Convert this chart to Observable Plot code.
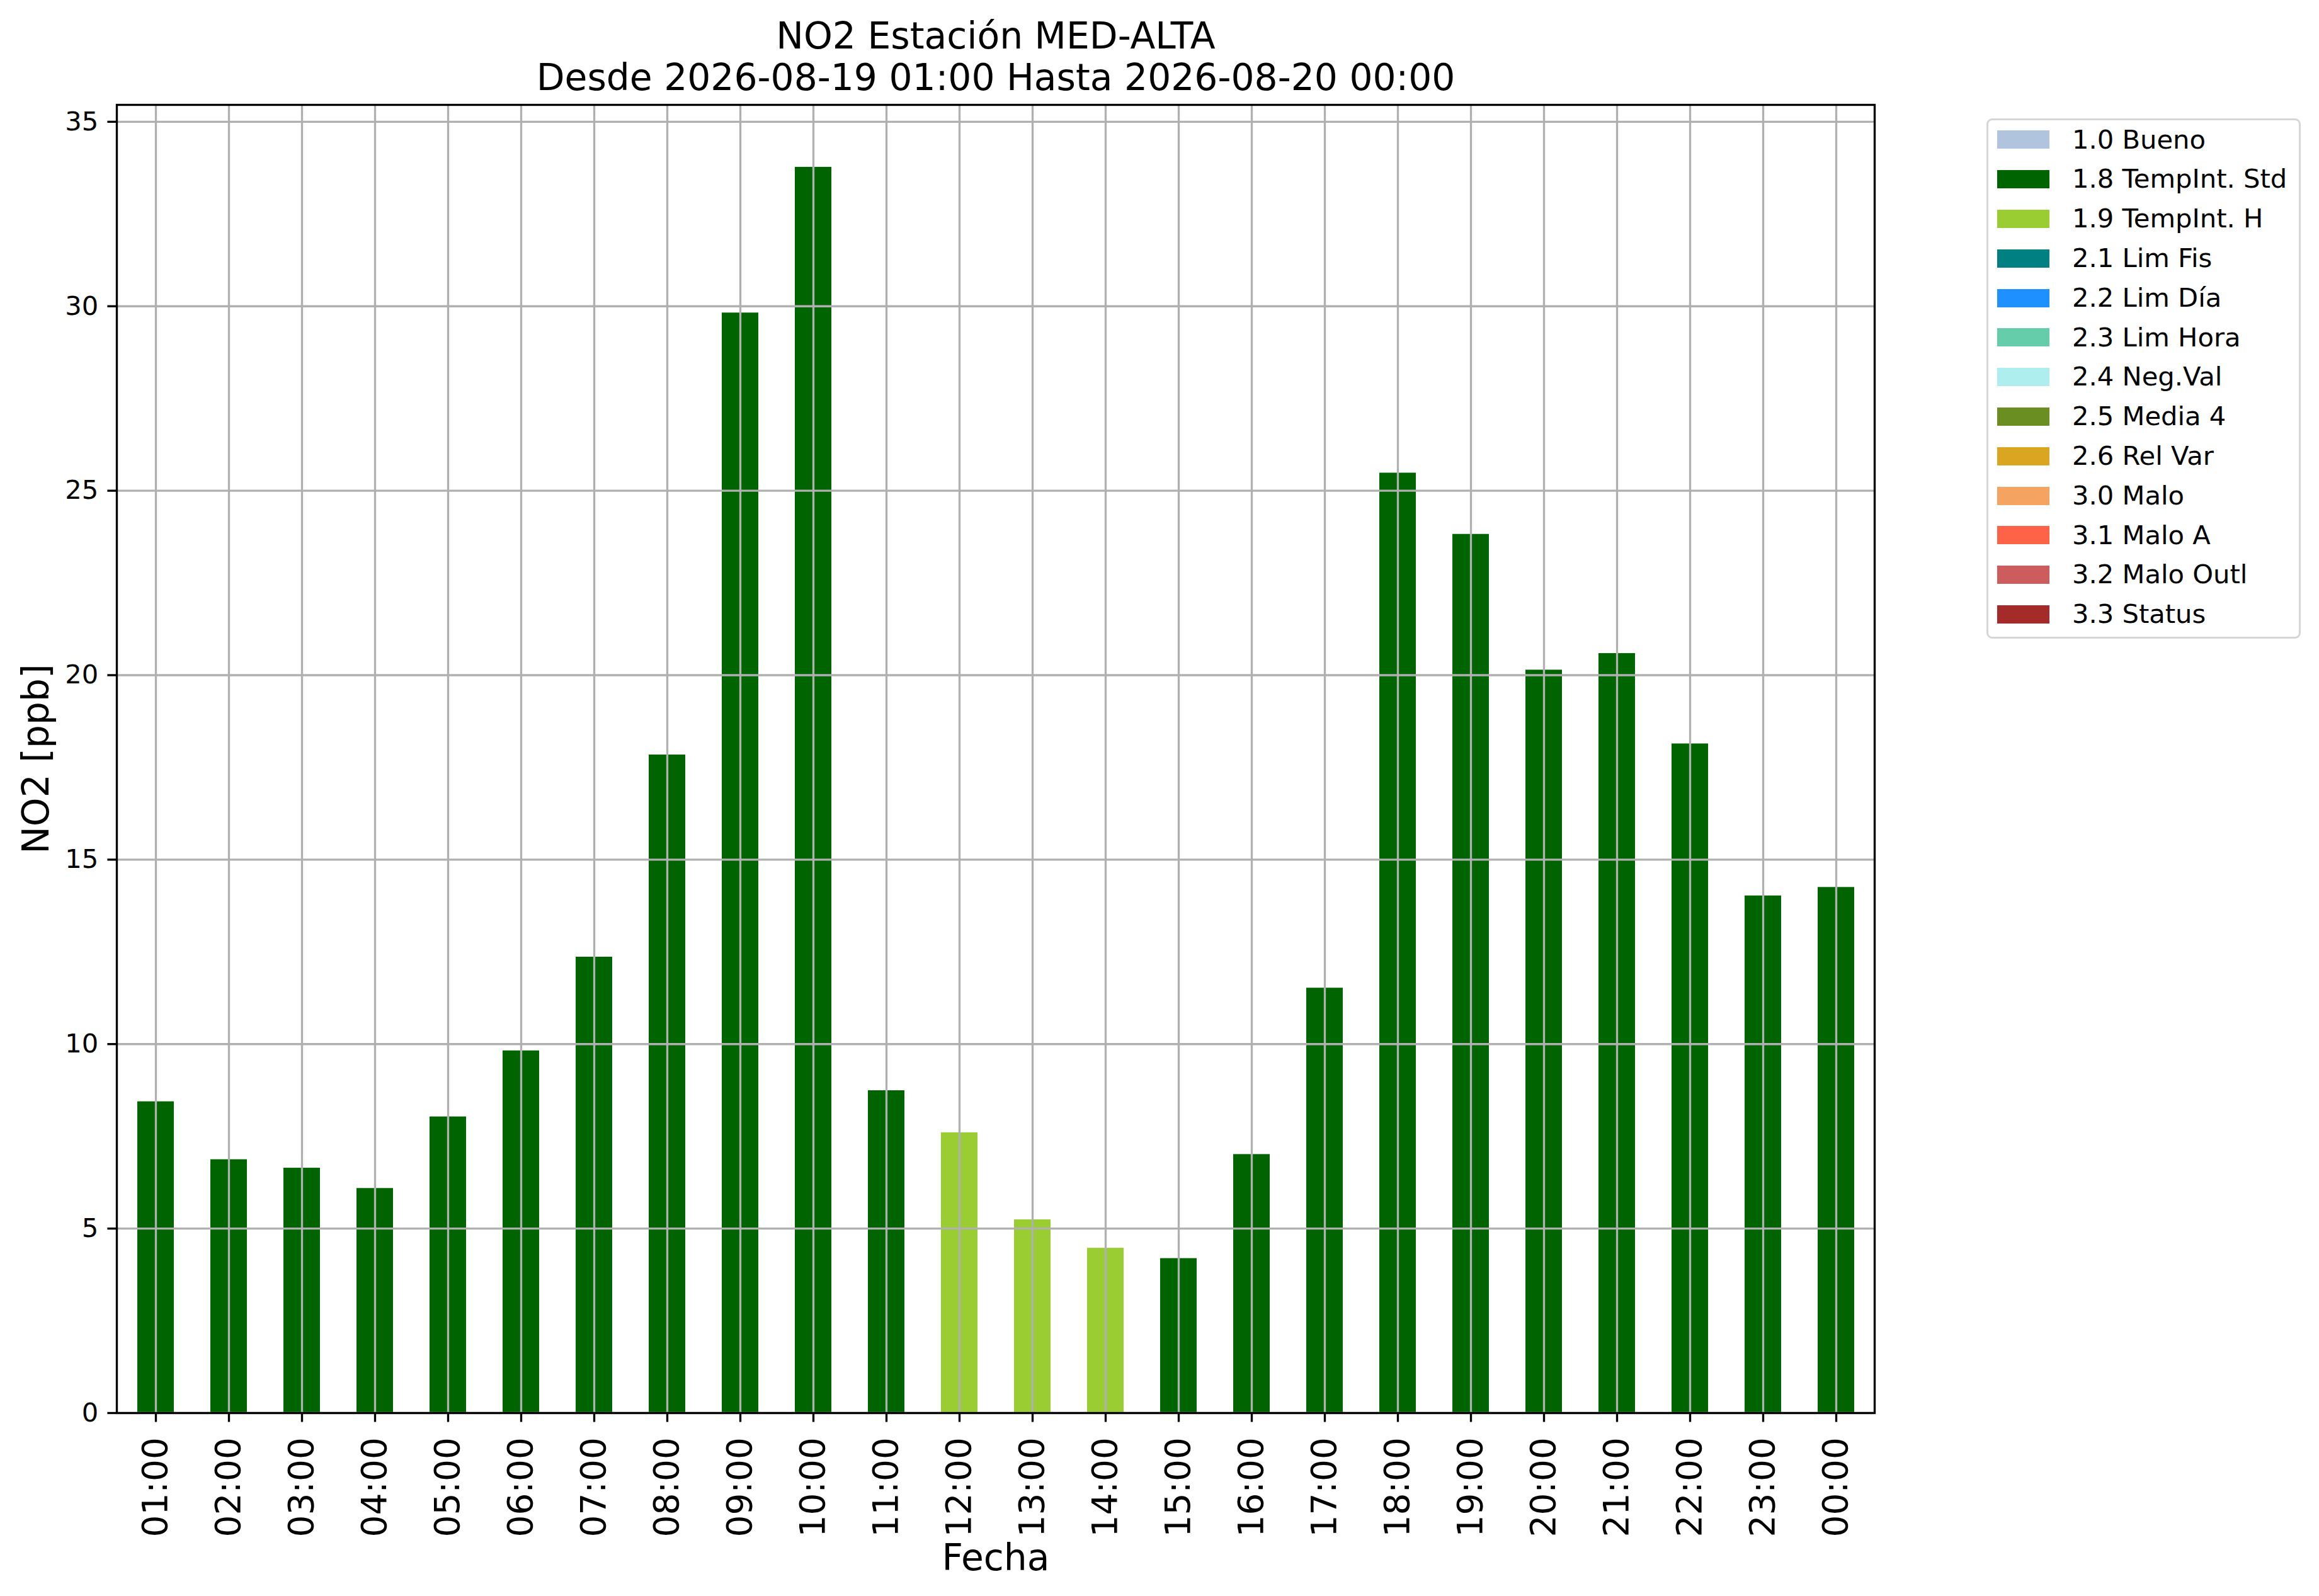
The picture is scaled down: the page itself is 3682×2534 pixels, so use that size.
<!DOCTYPE html>
<html>
<head>
<meta charset="utf-8">
<script src="https://cdn.jsdelivr.net/npm/d3@7"></script>
<script src="https://cdn.jsdelivr.net/npm/@observablehq/plot@0.6"></script>
<style>
  html, body { margin: 0; padding: 0; background: #fff; }
  #wrap { position: relative; width: 3682px; height: 2534px; font-family: "DejaVu Sans", sans-serif; color: #000; }
  #chart { position: absolute; left: 0; top: 0; }
  #legend { position: absolute; left: 3154px; top: 188px; width: 499px; height: 826px; box-sizing: border-box;
            border: 3.5px solid #d6d6d6; border-radius: 9px; background: #fff; }
  .lg-row { position: absolute; left: 0; height: 62.8px; width: 100%; }
  .lg-patch { position: absolute; left: 14px; top: 16.9px; width: 83px; height: 29px; }
  .lg-text { position: absolute; left: 133px; top: 0; height: 62.8px; line-height: 62.8px; font-size: 41.67px; white-space: nowrap; }
</style>
</head>
<body>
<div id="wrap">
  <div id="chart"></div>
  <div id="legend"></div>
</div>
<script>
// ---- data ----
const hours = ["01:00","02:00","03:00","04:00","05:00","06:00","07:00","08:00","09:00","10:00","11:00","12:00",
               "13:00","14:00","15:00","16:00","17:00","18:00","19:00","20:00","21:00","22:00","23:00","00:00"];
const values = [8.44, 6.87, 6.64, 6.09, 8.03, 9.82, 12.36, 17.84, 29.82, 33.77, 8.74, 7.60,
                5.24, 4.47, 4.19, 7.01, 11.52, 25.48, 23.82, 20.14, 20.59, 18.14, 14.02, 14.25];
const flags = ["1.8 TempInt. Std","1.8 TempInt. Std","1.8 TempInt. Std","1.8 TempInt. Std","1.8 TempInt. Std",
               "1.8 TempInt. Std","1.8 TempInt. Std","1.8 TempInt. Std","1.8 TempInt. Std","1.8 TempInt. Std",
               "1.8 TempInt. Std","1.9 TempInt. H","1.9 TempInt. H","1.9 TempInt. H","1.8 TempInt. Std",
               "1.8 TempInt. Std","1.8 TempInt. Std","1.8 TempInt. Std","1.8 TempInt. Std","1.8 TempInt. Std",
               "1.8 TempInt. Std","1.8 TempInt. Std","1.8 TempInt. Std","1.8 TempInt. Std"];
const flagLabels = ["1.0 Bueno","1.8 TempInt. Std","1.9 TempInt. H","2.1 Lim Fis","2.2 Lim Día","2.3 Lim Hora",
                    "2.4 Neg.Val","2.5 Media 4","2.6 Rel Var","3.0 Malo","3.1 Malo A","3.2 Malo Outl","3.3 Status"];
const flagColors = ["#b0c4de","#006400","#9acd32","#008080","#1e90ff","#66cdaa",
                    "#afeeee","#6b8e23","#daa520","#f4a460","#ff6347","#cd5c5c","#a52a2a"];
const yTicks = [0, 5, 10, 15, 20, 25, 30, 35];
const titleText = "NO2 Estación MED-ALTA\nDesde 2026-08-19 01:00 Hasta 2026-08-20 00:00";
const xLabel = "Fecha";
const yLabel = "NO2 [ppb]";

const rows = hours.map((h, i) => ({hour: h, value: values[i], flag: flags[i]}));
const yTop = d3.max(values) * 1.05;

const GRID = "#b0b0b0";
const LW = 3.33;

const chart = Plot.plot({
  width: 3682,
  height: 2534,
  marginLeft: 185,
  marginRight: 706,
  marginTop: 166,
  marginBottom: 291,
  style: {fontFamily: "DejaVu Sans", fontSize: "41.67px", color: "#000", background: "#fff", overflow: "visible"},
  x: {type: "band", domain: hours, paddingInner: 0.5, paddingOuter: 0.25, align: 0.5},
  y: {domain: [0, yTop]},
  color: {type: "ordinal", domain: flagLabels, range: flagColors},
  marks: [
    Plot.barY(rows, {x: "hour", y: "value", fill: "flag"}),
    Plot.gridX({stroke: GRID, strokeOpacity: 1, strokeWidth: LW}),
    Plot.gridY({ticks: yTicks, stroke: GRID, strokeOpacity: 1, strokeWidth: LW}),
    Plot.frame({stroke: "#000", strokeWidth: LW}),
    Plot.axisY({ticks: yTicks, tickSize: 14.6, tickPadding: 14.6, fontSize: 41.67, strokeWidth: LW, label: null}),
    Plot.axisX({tickSize: 14.6, tickPadding: 24, tickRotate: -90, fontSize: 55, strokeWidth: LW, label: null}),
    Plot.text([titleText], {text: d => d, frameAnchor: "top", dy: -23.3, lineAnchor: "bottom", textAnchor: "middle",
                            lineHeight: 1.144, fontSize: 58.3, fill: "#000"}),
    Plot.text([xLabel], {text: d => d, frameAnchor: "bottom", dy: 249, lineAnchor: "bottom", textAnchor: "middle",
                         fontSize: 58.3, fill: "#000"}),
    Plot.text([yLabel], {text: d => d, frameAnchor: "left", dx: -109, rotate: -90, lineAnchor: "bottom",
                         textAnchor: "middle", fontSize: 58.3, fill: "#000"})
  ]
});
document.getElementById("chart").appendChild(chart);

// ---- legend ----
const legend = d3.select("#legend");
flagLabels.forEach((lab, i) => {
  const row = legend.append("div").attr("class", "lg-row").style("top", (-0.5 + i * 62.8) + "px");
  row.append("div").attr("class", "lg-patch").style("background", flagColors[i]);
  row.append("div").attr("class", "lg-text").text(lab);
});
</script>
</body>
</html>
